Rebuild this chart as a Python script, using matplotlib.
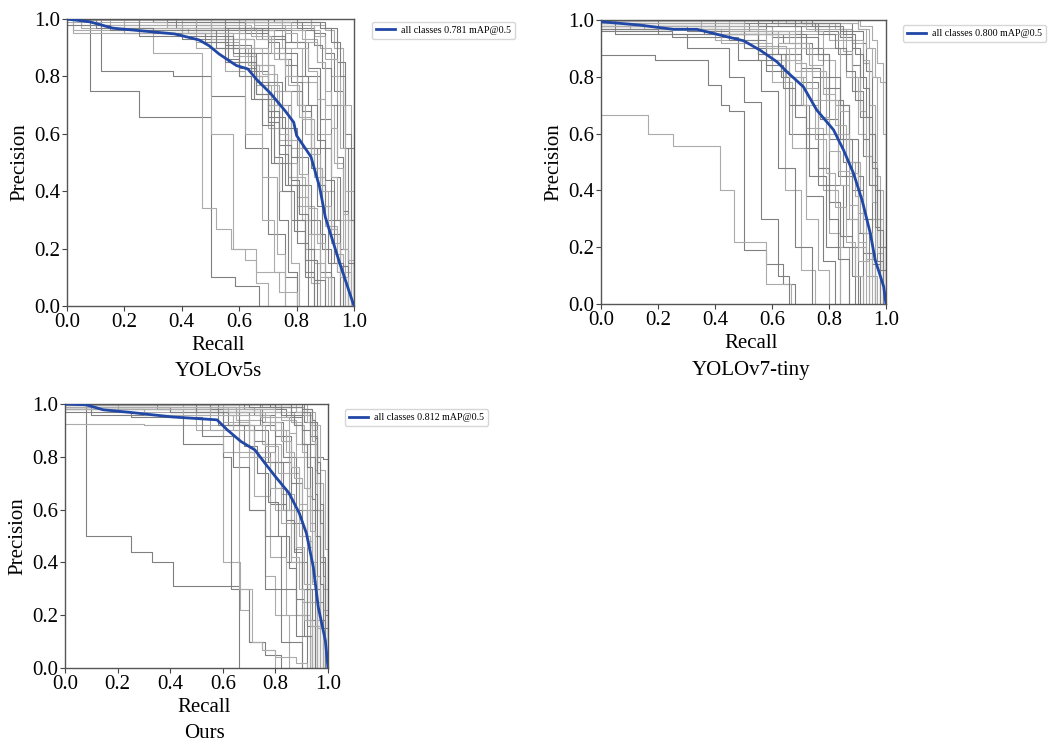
import matplotlib
matplotlib.use("Agg")
import matplotlib.pyplot as plt

plt.rcParams['font.family'] = ['Liberation Serif', 'DejaVu Serif']

# ---------------------------------------------------------------------------
# Data
# ---------------------------------------------------------------------------
titles = ["YOLOv5s", "YOLOv7-tiny", "Ours"]
map50 = [0.781, 0.800, 0.812]

# mean curve (all classes) for each model
v5s_mean_r = [0.0, 0.08, 0.16, 0.375, 0.46, 0.495, 0.53, 0.59, 0.63, 0.66, 0.71, 0.76, 0.79, 0.80, 0.85, 0.88, 0.90, 0.95, 1.0]
v5s_mean_p = [1.0, 0.99, 0.968, 0.948, 0.927, 0.907, 0.878, 0.838, 0.826, 0.79, 0.74, 0.68, 0.64, 0.594, 0.52, 0.415, 0.31, 0.15, 0.0]
v7t_mean_r = [0.0, 0.137, 0.254, 0.337, 0.442, 0.50, 0.558, 0.617, 0.652, 0.71, 0.757, 0.816, 0.851, 0.886, 0.916, 0.945, 0.962, 0.992, 1.0]
v7t_mean_p = [0.994, 0.982, 0.967, 0.967, 0.941, 0.927, 0.894, 0.853, 0.818, 0.765, 0.683, 0.613, 0.542, 0.46, 0.366, 0.249, 0.155, 0.061, 0.0]
ours_mean_r = [0.0, 0.08, 0.146, 0.25, 0.408, 0.578, 0.617, 0.669, 0.722, 0.76, 0.80, 0.852, 0.891, 0.918, 0.944, 0.963, 0.99, 1.0]
ours_mean_p = [1.0, 0.997, 0.978, 0.968, 0.951, 0.94, 0.902, 0.858, 0.826, 0.776, 0.725, 0.662, 0.586, 0.51, 0.383, 0.231, 0.104, 0.0]

# per-class curves: (recall knots, precision levels), drawn as post steps
v5s_classes = [
    ([0, 0.08, 0.25, 0.5, 0.585, 0.67], [1, 0.75, 0.66, 0.1, 0.07, 0]),
    ([0, 0.05, 0.3, 0.47, 0.52, 0.57, 0.62, 0.66, 0.7], [1, 0.97, 0.88, 0.34, 0.27, 0.2, 0.16, 0.08, 0]),
    ([0, 0.12, 0.37, 0.5, 0.62, 0.7, 0.76, 0.8], [1, 0.82, 0.8, 0.73, 0.55, 0.25, 0.1, 0]),
    ([0, 0.02, 0.2, 0.45, 0.55, 0.62, 0.68, 0.72, 0.76], [1, 0.96, 0.95, 0.9, 0.82, 0.6, 0.3, 0.12, 0]),
    ([0, 0.1, 0.4, 0.55, 0.65, 0.72, 0.78, 0.83, 0.86], [1, 0.98, 0.93, 0.85, 0.72, 0.5, 0.3, 0.1, 0]),
    ([0, 0.15, 0.42, 0.58, 0.66, 0.74, 0.8, 0.86, 0.9], [1, 0.97, 0.95, 0.87, 0.77, 0.58, 0.35, 0.15, 0]),
    ([0, 0.3, 0.55, 0.65, 0.72, 0.78, 0.84, 0.88, 0.92], [1, 0.99, 0.93, 0.84, 0.7, 0.52, 0.3, 0.12, 0]),
    ([0, 0.2, 0.5, 0.62, 0.7, 0.77, 0.83, 0.88], [1, 0.95, 0.9, 0.8, 0.62, 0.45, 0.2, 0]),
    ([0, 0.35, 0.6, 0.7, 0.76, 0.82, 0.87, 0.91, 0.95], [1, 0.98, 0.95, 0.88, 0.75, 0.55, 0.35, 0.15, 0]),
    ([0, 0.4, 0.65, 0.75, 0.82, 0.87, 0.9, 0.93, 0.96], [1, 0.99, 0.96, 0.9, 0.78, 0.6, 0.4, 0.18, 0]),
    ([0, 0.5, 0.7, 0.78, 0.84, 0.88, 0.92, 0.95, 0.98], [1, 0.99, 0.96, 0.92, 0.83, 0.65, 0.45, 0.2, 0]),
    ([0, 0.55, 0.75, 0.82, 0.87, 0.9, 0.93, 0.96, 0.98], [1, 0.99, 0.97, 0.93, 0.85, 0.7, 0.5, 0.2, 0]),
    ([0, 0.6, 0.8, 0.86, 0.9, 0.93, 0.96, 0.98, 1.0], [1, 0.99, 0.97, 0.95, 0.88, 0.75, 0.55, 0.3, 0]),
    ([0, 0.7, 0.85, 0.9, 0.93, 0.96, 0.99], [1, 1.0, 0.98, 0.96, 0.9, 0.7, 0]),
    ([0, 0.8, 0.9, 0.94, 0.97, 1.0], [1, 0.99, 0.97, 0.85, 0.55, 0]),
    ([0, 0.05, 0.5, 0.65, 0.72, 0.78, 0.82, 0.85, 0.88], [1, 0.98, 0.93, 0.84, 0.75, 0.55, 0.3, 0.08, 0]),
    ([0, 0.25, 0.55, 0.64, 0.7, 0.76, 0.8, 0.84], [1, 0.96, 0.91, 0.82, 0.66, 0.42, 0.22, 0]),
    ([0, 0.6, 0.72, 0.78, 0.82, 0.86, 0.9, 0.94, 0.97], [1, 0.96, 0.9, 0.8, 0.65, 0.45, 0.28, 0.12, 0]),
    ([0, 0.45, 0.62, 0.7, 0.75, 0.8, 0.85, 0.9, 0.93], [1, 0.96, 0.88, 0.78, 0.62, 0.42, 0.25, 0.1, 0]),
    ([0, 0.55, 0.85, 0.88, 0.92, 0.95, 0.97, 0.99], [1, 1.0, 0.96, 0.9, 0.8, 0.55, 0.3, 0]),
    ([0, 0.38, 0.56, 0.66, 0.71, 0.74, 0.77, 0.8], [1, 0.97, 0.85, 0.74, 0.5, 0.3, 0.12, 0]),
    ([0, 0.2, 0.45, 0.6, 0.68, 0.73, 0.76], [1, 0.97, 0.92, 0.8, 0.45, 0.18, 0]),
    ([0, 0.7, 0.88, 0.92, 0.95, 0.97, 0.99, 1.0], [1, 0.99, 0.97, 0.92, 0.8, 0.6, 0.3, 0]),
    ([0, 0.02, 0.62, 0.7, 0.74, 0.78, 0.81], [1, 0.95, 0.9, 0.7, 0.4, 0.15, 0]),
    ([0, 0.5, 0.68, 0.76, 0.8, 0.85, 0.89, 0.92], [1, 0.97, 0.93, 0.84, 0.7, 0.48, 0.2, 0]),
    ([0, 0.75, 0.86, 0.9, 0.94, 0.97, 1.0], [1, 0.98, 0.94, 0.86, 0.7, 0.4, 0]),
    ([0, 0.62, 0.76, 0.83, 0.88, 0.92, 0.95], [1, 0.97, 0.92, 0.8, 0.55, 0.25, 0]),
    ([0, 0.45, 0.5, 0.58, 0.66, 0.74, 0.8], [1, 0.98, 0.6, 0.2, 0.12, 0.05, 0]),
    ([0, 0.1, 0.3, 0.48, 0.56, 0.6, 0.64, 0.68, 0.72, 0.75, 0.79, 0.83, 0.86], [1, 0.97, 0.95, 0.92, 0.86, 0.8, 0.72, 0.63, 0.52, 0.4, 0.26, 0.12, 0]),
    ([0, 0.4, 0.58, 0.63, 0.67, 0.71, 0.74, 0.77, 0.8, 0.84, 0.88, 0.91], [1, 0.95, 0.9, 0.84, 0.77, 0.68, 0.6, 0.5, 0.38, 0.25, 0.1, 0]),
    ([0, 0.3, 0.62, 0.7, 0.74, 0.78, 0.82, 0.85, 0.88, 0.9, 0.93, 0.96], [1, 0.99, 0.96, 0.92, 0.86, 0.78, 0.68, 0.55, 0.42, 0.3, 0.15, 0]),
    ([0, 0.65, 0.76, 0.8, 0.84, 0.87, 0.9, 0.92, 0.94, 0.97, 0.99], [1, 0.98, 0.95, 0.9, 0.82, 0.72, 0.6, 0.45, 0.3, 0.12, 0]),
    ([0, 0.15, 0.52, 0.6, 0.66, 0.7, 0.74, 0.77, 0.8, 0.83, 0.87], [0.98, 0.96, 0.9, 0.83, 0.74, 0.64, 0.53, 0.42, 0.3, 0.16, 0]),
    ([0, 0.5, 0.66, 0.72, 0.77, 0.81, 0.85, 0.88, 0.91, 0.94, 0.97], [1, 0.97, 0.93, 0.86, 0.77, 0.66, 0.53, 0.4, 0.27, 0.12, 0]),
    ([0, 0.72, 0.82, 0.86, 0.89, 0.92, 0.94, 0.96, 0.98, 1.0], [1, 0.99, 0.96, 0.91, 0.83, 0.7, 0.52, 0.33, 0.15, 0]),
    ([0, 0.35, 0.6, 0.68, 0.73, 0.77, 0.81, 0.84, 0.87, 0.9, 0.92], [0.99, 0.97, 0.9, 0.81, 0.7, 0.58, 0.46, 0.34, 0.22, 0.1, 0]),
    ([0, 0.55, 0.7, 0.76, 0.8, 0.84, 0.87, 0.9, 0.93, 0.95, 0.98], [1, 0.97, 0.94, 0.88, 0.8, 0.7, 0.58, 0.44, 0.3, 0.14, 0]),
    ([0, 0.62, 0.78, 0.83, 0.87, 0.9, 0.92, 0.94, 0.96, 0.98, 1.0], [1, 0.99, 0.96, 0.92, 0.85, 0.75, 0.62, 0.48, 0.32, 0.16, 0]),
    ([0, 0.25, 0.58, 0.66, 0.7, 0.74, 0.78, 0.81, 0.84, 0.86, 0.9], [1, 0.94, 0.88, 0.78, 0.68, 0.56, 0.44, 0.32, 0.2, 0.09, 0]),
    ([0, 0.45, 0.64, 0.71, 0.76, 0.8, 0.83, 0.86, 0.89, 0.92, 0.95, 0.98], [1, 0.98, 0.94, 0.88, 0.8, 0.7, 0.6, 0.48, 0.35, 0.22, 0.1, 0]),
]

v7t_classes = [
    ([0, 0.19, 0.375, 0.42, 0.45, 0.5, 0.58, 0.64, 0.68], [0.877, 0.86, 0.77, 0.7, 0.68, 0.19, 0.14, 0.07, 0]),
    ([0, 0.166, 0.252, 0.416, 0.467, 0.58, 0.666], [0.667, 0.6, 0.556, 0.4, 0.22, 0.07, 0]),
    ([0, 0.05, 0.3, 0.45, 0.5, 0.56, 0.62, 0.66], [1, 0.95, 0.9, 0.8, 0.71, 0.3, 0.1, 0]),
    ([0, 0.1, 0.4, 0.55, 0.645, 0.7, 0.75], [0.99, 0.97, 0.93, 0.88, 0.4, 0.12, 0]),
    ([0, 0.2, 0.45, 0.58, 0.66, 0.72, 0.78, 0.82], [1, 0.98, 0.93, 0.82, 0.6, 0.38, 0.15, 0]),
    ([0, 0.35, 0.55, 0.65, 0.72, 0.78, 0.83, 0.87], [1, 0.97, 0.91, 0.8, 0.62, 0.4, 0.2, 0]),
    ([0, 0.4, 0.6, 0.7, 0.77, 0.83, 0.88, 0.92], [1, 0.98, 0.94, 0.83, 0.65, 0.45, 0.2, 0]),
    ([0, 0.5, 0.68, 0.76, 0.82, 0.87, 0.91, 0.95], [1, 0.99, 0.95, 0.86, 0.7, 0.5, 0.25, 0]),
    ([0, 0.55, 0.75, 0.83, 0.88, 0.92, 0.95, 0.98], [1, 0.99, 0.96, 0.88, 0.75, 0.52, 0.3, 0]),
    ([0, 0.6, 0.82, 0.88, 0.92, 0.94, 0.96, 0.99], [1, 0.99, 0.97, 0.92, 0.85, 0.6, 0.3, 0]),
    ([0, 0.7, 0.88, 0.92, 0.93, 0.95, 0.97, 1.0], [1, 0.99, 0.96, 0.92, 0.82, 0.5, 0.2, 0]),
    ([0, 0.65, 0.9, 0.94, 0.96, 0.98, 1.0], [1, 0.99, 0.97, 0.9, 0.8, 0.78, 0]),
    ([0, 0.45, 0.62, 0.7, 0.76, 0.8, 0.85, 0.89], [0.97, 0.95, 0.88, 0.78, 0.6, 0.42, 0.2, 0]),
    ([0, 0.3, 0.5, 0.6, 0.67, 0.72, 0.76, 0.8], [0.98, 0.96, 0.9, 0.78, 0.55, 0.3, 0.12, 0]),
    ([0, 0.25, 0.48, 0.56, 0.62, 0.68, 0.74], [0.96, 0.94, 0.86, 0.75, 0.48, 0.2, 0]),
    ([0, 0.62, 0.8, 0.86, 0.9, 0.93, 0.96], [1, 0.98, 0.93, 0.8, 0.6, 0.3, 0]),
    ([0, 0.58, 0.72, 0.8, 0.85, 0.9, 0.94], [0.99, 0.95, 0.88, 0.72, 0.5, 0.25, 0]),
    ([0, 0.75, 0.9, 0.93, 0.95, 0.97, 0.99], [1, 1.0, 0.97, 0.9, 0.8, 0.4, 0]),
    ([0, 0.52, 0.7, 0.78, 0.84, 0.88, 0.92, 0.96], [0.99, 0.96, 0.9, 0.76, 0.58, 0.4, 0.18, 0]),
    ([0, 0.8, 0.91, 0.95, 0.97, 0.99, 1.0], [1, 1.0, 0.98, 0.93, 0.85, 0.6, 0]),
    ([0, 0.36, 0.55, 0.66, 0.73, 0.79, 0.84], [0.97, 0.95, 0.86, 0.7, 0.45, 0.2, 0]),
    ([0, 0.15, 0.42, 0.6, 0.7, 0.76, 0.8, 0.84], [0.99, 0.97, 0.92, 0.86, 0.7, 0.48, 0.25, 0]),
    ([0, 0.68, 0.84, 0.88, 0.91, 0.94, 0.97, 0.99], [1, 0.98, 0.94, 0.84, 0.66, 0.42, 0.15, 0]),
    ([0, 0.72, 0.86, 0.92, 0.94, 0.96, 0.98], [1, 0.97, 0.93, 0.86, 0.7, 0.45, 0]),
    ([0, 0.4, 0.64, 0.74, 0.8, 0.86, 0.9], [0.98, 0.95, 0.92, 0.8, 0.58, 0.3, 0]),
    ([0, 0.6, 0.78, 0.84, 0.87, 0.9, 0.93], [0.98, 0.96, 0.9, 0.68, 0.5, 0.2, 0]),
    ([0, 0.3, 0.5, 0.58, 0.64, 0.68, 0.72, 0.76, 0.8, 0.83, 0.87], [0.98, 0.96, 0.9, 0.84, 0.76, 0.66, 0.55, 0.42, 0.3, 0.16, 0]),
    ([0, 0.45, 0.62, 0.68, 0.72, 0.76, 0.8, 0.84, 0.87, 0.9, 0.94], [1, 0.96, 0.92, 0.85, 0.76, 0.66, 0.54, 0.42, 0.3, 0.15, 0]),
    ([0, 0.55, 0.7, 0.76, 0.8, 0.84, 0.87, 0.9, 0.92, 0.95, 0.98], [1, 0.98, 0.94, 0.88, 0.8, 0.7, 0.58, 0.45, 0.3, 0.14, 0]),
    ([0, 0.65, 0.8, 0.85, 0.88, 0.91, 0.93, 0.95, 0.97, 0.99], [1, 0.99, 0.95, 0.89, 0.8, 0.68, 0.52, 0.36, 0.18, 0]),
    ([0, 0.2, 0.55, 0.63, 0.68, 0.72, 0.76, 0.8, 0.84, 0.88, 0.91], [0.97, 0.95, 0.88, 0.8, 0.7, 0.6, 0.48, 0.36, 0.24, 0.1, 0]),
    ([0, 0.5, 0.66, 0.73, 0.78, 0.82, 0.86, 0.89, 0.92, 0.95, 0.97], [0.99, 0.96, 0.92, 0.84, 0.74, 0.63, 0.5, 0.38, 0.25, 0.1, 0]),
    ([0, 0.74, 0.85, 0.89, 0.92, 0.94, 0.96, 0.98, 1.0], [1, 0.98, 0.95, 0.88, 0.76, 0.6, 0.4, 0.2, 0]),
    ([0, 0.4, 0.6, 0.68, 0.74, 0.79, 0.83, 0.87, 0.9, 0.93, 0.96], [0.98, 0.95, 0.9, 0.82, 0.72, 0.6, 0.47, 0.35, 0.22, 0.1, 0]),
    ([0, 0.6, 0.76, 0.82, 0.86, 0.89, 0.92, 0.94, 0.96, 0.98, 1.0], [1, 0.99, 0.95, 0.9, 0.82, 0.72, 0.58, 0.42, 0.27, 0.12, 0]),
    ([0, 0.35, 0.58, 0.66, 0.71, 0.75, 0.79, 0.82, 0.86, 0.89, 0.92], [0.99, 0.97, 0.9, 0.8, 0.7, 0.58, 0.46, 0.34, 0.22, 0.1, 0]),
    ([0, 0.7, 0.84, 0.88, 0.91, 0.93, 0.95, 0.97, 0.99], [1, 0.99, 0.96, 0.9, 0.8, 0.66, 0.48, 0.26, 0]),
    ([0, 0.55, 0.68, 0.74, 0.79, 0.83, 0.87, 0.9, 0.93, 0.96], [0.98, 0.95, 0.9, 0.82, 0.72, 0.6, 0.46, 0.32, 0.16, 0]),
]

ours_classes = [
    ([0, 0.08, 0.25, 0.33, 0.41, 0.66], [1, 0.5, 0.44, 0.4, 0.31, 0]),
    ([0, 0.3, 0.6, 0.665, 0.7, 0.75, 0.8], [0.925, 0.92, 0.4, 0.22, 0.1, 0.07, 0]),
    ([0, 0.1, 0.45, 0.6, 0.63, 0.7, 0.76, 0.82], [1, 0.96, 0.85, 0.8, 0.3, 0.1, 0.05, 0]),
    ([0, 0.2, 0.5, 0.6, 0.7, 0.76, 0.8, 0.85], [1, 0.97, 0.9, 0.82, 0.6, 0.35, 0.2, 0]),
    ([0, 0.35, 0.58, 0.7, 0.78, 0.84, 0.88, 0.92], [1, 0.98, 0.92, 0.82, 0.62, 0.4, 0.2, 0]),
    ([0, 0.45, 0.65, 0.75, 0.82, 0.87, 0.9, 0.94], [1, 0.99, 0.94, 0.85, 0.66, 0.45, 0.25, 0]),
    ([0, 0.55, 0.72, 0.8, 0.86, 0.9, 0.93, 0.96], [1, 0.99, 0.96, 0.88, 0.7, 0.5, 0.25, 0]),
    ([0, 0.6, 0.8, 0.87, 0.91, 0.93, 0.95, 0.97], [1, 1.0, 0.97, 0.92, 0.8, 0.55, 0.25, 0]),
    ([0, 0.7, 0.86, 0.91, 0.93, 0.95, 0.97, 0.98], [1, 1.0, 0.97, 0.93, 0.85, 0.6, 0.25, 0]),
    ([0, 0.75, 0.88, 0.93, 0.95, 0.96, 0.98, 0.99], [1, 0.99, 0.97, 0.92, 0.85, 0.6, 0.3, 0]),
    ([0, 0.8, 0.9, 0.94, 0.96, 0.98, 1.0], [1, 1.0, 0.98, 0.93, 0.8, 0.79, 0]),
    ([0, 0.65, 0.82, 0.88, 0.92, 0.94, 0.96, 0.98], [0.99, 0.97, 0.94, 0.85, 0.65, 0.4, 0.15, 0]),
    ([0, 0.5, 0.7, 0.77, 0.83, 0.88, 0.92, 0.95], [1, 0.97, 0.9, 0.78, 0.6, 0.4, 0.18, 0]),
    ([0, 0.3, 0.55, 0.66, 0.72, 0.78, 0.84, 0.9], [0.98, 0.96, 0.9, 0.8, 0.65, 0.42, 0.2, 0]),
    ([0, 0.58, 0.74, 0.8, 0.86, 0.9, 0.94], [1, 0.97, 0.92, 0.78, 0.55, 0.3, 0]),
    ([0, 0.62, 0.78, 0.85, 0.89, 0.93, 0.96], [0.98, 0.96, 0.9, 0.74, 0.5, 0.25, 0]),
    ([0, 0.4, 0.62, 0.72, 0.76, 0.82, 0.88, 0.93], [0.99, 0.97, 0.92, 0.8, 0.5, 0.3, 0.12, 0]),
    ([0, 0.85, 0.92, 0.95, 0.97, 0.99, 1.0], [1, 1.0, 0.97, 0.92, 0.75, 0.45, 0]),
    ([0, 0.68, 0.84, 0.9, 0.93, 0.95, 0.97], [1, 0.98, 0.95, 0.85, 0.6, 0.3, 0]),
    ([0, 0.72, 0.86, 0.9, 0.92, 0.94, 0.96], [0.99, 0.97, 0.93, 0.82, 0.6, 0.35, 0]),
    ([0, 0.25, 0.52, 0.64, 0.7, 0.76, 0.82, 0.9], [0.97, 0.95, 0.88, 0.76, 0.6, 0.3, 0.1, 0]),
    ([0, 0.6, 0.7, 0.8, 0.86, 0.9, 0.93], [0.98, 0.93, 0.82, 0.6, 0.4, 0.2, 0]),
    ([0, 0.78, 0.9, 0.93, 0.95, 0.97, 0.99], [1, 0.99, 0.96, 0.88, 0.7, 0.4, 0]),
    ([0, 0.66, 0.71, 0.75, 0.8, 0.88, 0.92], [0.98, 0.3, 0.1, 0.07, 0.04, 0.02, 0]),
    ([0, 0.55, 0.75, 0.83, 0.88, 0.92, 0.95], [1, 0.98, 0.93, 0.8, 0.6, 0.3, 0]),
    ([0, 0.82, 0.91, 0.94, 0.96, 0.98, 1.0], [1, 0.99, 0.96, 0.9, 0.7, 0.3, 0]),
    ([0, 0.5, 0.66, 0.72, 0.76, 0.8, 0.84, 0.87, 0.9, 0.92, 0.95], [1, 0.97, 0.92, 0.86, 0.78, 0.68, 0.56, 0.44, 0.3, 0.16, 0]),
    ([0, 0.6, 0.74, 0.8, 0.84, 0.87, 0.9, 0.92, 0.94, 0.96, 0.98], [1, 0.98, 0.95, 0.9, 0.82, 0.72, 0.6, 0.46, 0.32, 0.16, 0]),
    ([0, 0.7, 0.82, 0.87, 0.9, 0.92, 0.94, 0.95, 0.96, 0.97, 0.99], [1, 0.99, 0.96, 0.92, 0.85, 0.76, 0.64, 0.5, 0.35, 0.18, 0]),
    ([0, 0.78, 0.88, 0.92, 0.94, 0.95, 0.96, 0.97, 0.98, 1.0], [1, 1.0, 0.97, 0.93, 0.86, 0.75, 0.6, 0.42, 0.22, 0]),
    ([0, 0.4, 0.6, 0.68, 0.73, 0.77, 0.81, 0.85, 0.88, 0.91, 0.94], [0.99, 0.97, 0.92, 0.84, 0.74, 0.63, 0.5, 0.38, 0.26, 0.12, 0]),
    ([0, 0.66, 0.8, 0.85, 0.88, 0.91, 0.93, 0.95, 0.97, 0.98], [1, 0.98, 0.95, 0.89, 0.8, 0.68, 0.52, 0.35, 0.18, 0]),
    ([0, 0.84, 0.91, 0.94, 0.95, 0.96, 0.97, 0.98, 0.99, 1.0], [1, 1.0, 0.98, 0.94, 0.88, 0.78, 0.62, 0.42, 0.2, 0]),
    ([0, 0.55, 0.7, 0.76, 0.81, 0.85, 0.88, 0.91, 0.93, 0.96], [0.99, 0.96, 0.92, 0.84, 0.74, 0.6, 0.46, 0.32, 0.16, 0]),
    ([0, 0.74, 0.86, 0.9, 0.93, 0.95, 0.96, 0.97, 0.98, 0.99], [1, 0.99, 0.96, 0.9, 0.8, 0.66, 0.5, 0.32, 0.15, 0]),
    ([0, 0.62, 0.76, 0.82, 0.86, 0.89, 0.92, 0.94, 0.96, 0.97], [0.99, 0.97, 0.93, 0.86, 0.76, 0.62, 0.48, 0.33, 0.18, 0]),
    ([0, 0.8, 0.9, 0.93, 0.95, 0.96, 0.97, 0.98, 0.99, 1.0], [1, 0.99, 0.97, 0.93, 0.87, 0.74, 0.55, 0.35, 0.15, 0]),
    ([0, 0.45, 0.64, 0.72, 0.78, 0.82, 0.86, 0.89, 0.91, 0.94], [0.98, 0.96, 0.9, 0.8, 0.68, 0.55, 0.42, 0.3, 0.18, 0]),
]

ticks = [0.0, 0.2, 0.4, 0.6, 0.8, 1.0]

########################################################################################
# Plotting
########################################################################################

W, H = 1048, 742
fig = plt.figure(figsize=(W / 100, H / 100), dpi=100)

# axes boxes in pixels: left, top, right, bottom
boxes = [(67, 19, 354, 306), (601, 20, 886, 304), (65, 404, 328, 668)]
legend_anchor = [(1.063, 0.99), (1.06, 0.982), (1.065, 0.98)]

panels = [
    (v5s_classes, v5s_mean_r, v5s_mean_p),
    (v7t_classes, v7t_mean_r, v7t_mean_p),
    (ours_classes, ours_mean_r, ours_mean_p),
]

for i, (classes, mr, mp) in enumerate(panels):
    l, t, r, b = boxes[i]
    ax = fig.add_axes([l / W, (H - b) / H, (r - l) / W, (b - t) / H])
    for j, (cr, cp) in enumerate(classes):
        col = '#808080' if j % 2 == 0 else '#ababab'
        ax.step(cr, cp, where='post', color=col, lw=0.8, zorder=2)
    ax.plot(mr, mp, color='#2148a6', lw=2.0, zorder=3,
            label="all classes %.3f mAP@0.5" % map50[i])

    ax.set_xlim(0, 1)
    ax.set_ylim(0, 1)
    ax.set_xticks(ticks)
    ax.set_yticks(ticks)
    ax.set_xticklabels(["%.1f" % v for v in ticks])
    ax.set_yticklabels(["%.1f" % v for v in ticks])
    ax.tick_params(labelsize=15, length=3.5, width=0.8, pad=1.5, color='#444444')
    for s in ax.spines.values():
        s.set_color('#555555')
        s.set_linewidth(1.0)

    # labels placed by pixel offset from the axes
    ax.annotate("Recall", xy=(0.5, 0), xycoords='axes fraction', xytext=(8, -39),
                textcoords='offset pixels', ha='center', va='center', fontsize=15)
    ax.annotate(titles[i], xy=(0.5, 0), xycoords='axes fraction', xytext=(8, -66),
                textcoords='offset pixels', ha='center', va='center', fontsize=15)
    ax.annotate("Precision", xy=(0, 0.5), xycoords='axes fraction', xytext=(-47, 0),
                textcoords='offset pixels', ha='center', va='center', fontsize=15,
                rotation=90)

    leg = ax.legend(loc='upper left', bbox_to_anchor=legend_anchor[i], borderaxespad=0,
                    fontsize=7.2, frameon=True, handlelength=1.9, handletextpad=0.6)
    leg.get_frame().set_edgecolor('#cccccc')

fig.savefig("out.png", dpi=100)
